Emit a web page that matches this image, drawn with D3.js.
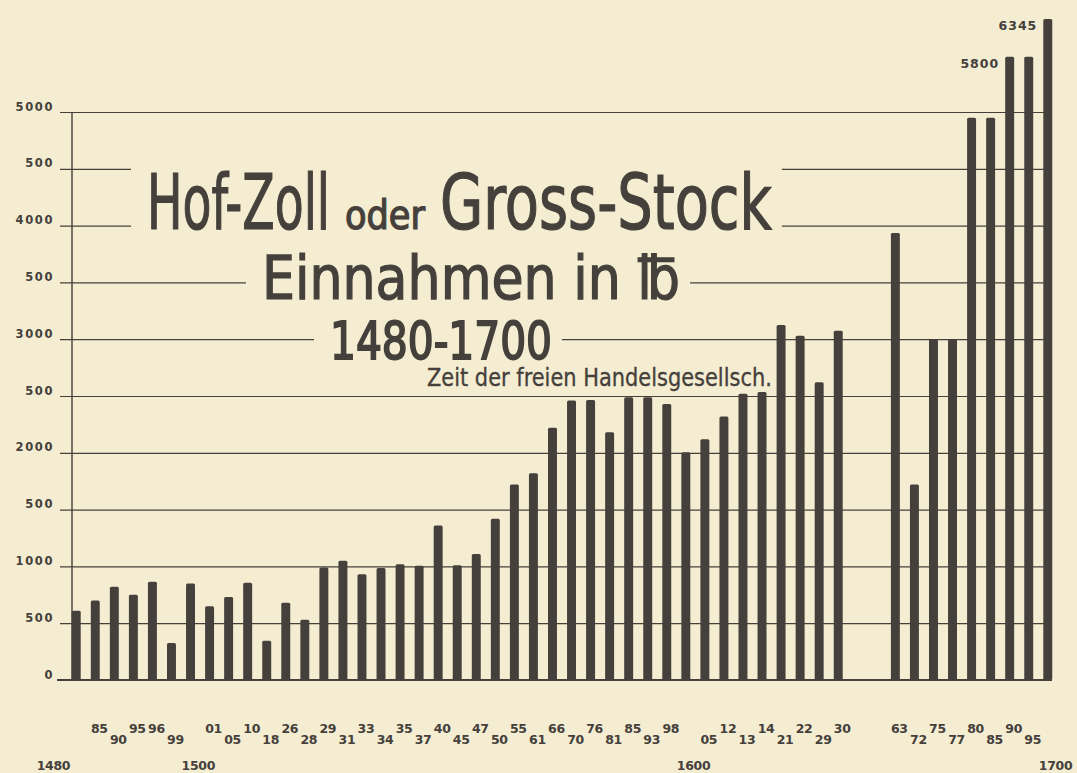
<!DOCTYPE html>
<html>
<head>
<meta charset="utf-8">
<script src="https://cdn.jsdelivr.net/npm/d3@7"></script>
<style>
  html, body { margin: 0; padding: 0; background: #f4edd2; }
  svg { display: block; }
</style>
</head>
<body>
<svg id="chart" width="1077" height="773"></svg>
<script>
// years and revenue (in lb)
const years = [1480, 1485, 1490, 1495, 1496, 1499, 1500, 1501, 1505, 1510,
  1518, 1526, 1528, 1529, 1531, 1533, 1534, 1535, 1537, 1540,
  1545, 1547, 1550, 1555, 1561, 1566, 1570, 1576, 1581, 1585,
  1593, 1598, 1600, 1605, 1612, 1613, 1614, 1621, 1622, 1629,
  1630, 1663, 1672, 1675, 1677, 1680, 1685, 1690, 1695, 1700];
const values = [610, 700, 820, 750, 865, 325, 850, 650, 730, 855,
  345, 680, 530, 990, 1050, 930, 985, 1020, 1005, 1360,
  1010, 1110, 1420, 1720, 1820, 2220, 2460, 2465, 2180, 2490,
  2490, 2430, 2005, 2120, 2320, 2520, 2535, 3125, 3030, 2620,
  3075, 3935, 1720, 3000, 3000, 4950, 4950, 5800, 5800, 6345];
const yTicks = d3.range(0, 5001, 500);
const valueLabels = [5800, 6345]; // printed beside the tall bars
const labelledYears = [1690, 1700];

// layout bits
const gapAfter = 1630;      // empty stretch in the record
const raisedYears = [1485, 1495, 1496, 1501, 1510, 1526, 1529, 1533, 1535, 1540, 1547, 1555,
  1566, 1576, 1585, 1598, 1612, 1614, 1622, 1630, 1663, 1675, 1680, 1690];

const ink = '#45403b';
const paper = '#f4edd2';
const titleFont = '"Liberation Sans Narrow", "DejaVu Sans Condensed", "Roboto Condensed", "Open Sans", sans-serif';
const numFont = '"DejaVu Sans", Verdana, sans-serif';

const svg = d3.select('#chart');
svg.append('rect').attr('width', 1077).attr('height', 773).attr('fill', paper);

const slots = [];
years.forEach((yr) => {
  slots.push(yr);
  if (yr === gapAfter) slots.push('gap-a', 'gap-b');
});

const x = d3.scaleBand().domain(slots).range([66.7, 1057.3])
  .paddingInner(0.53).paddingOuter(0.265);
// the drawing squeezes everything above 5000
const y = d3.scaleLinear().domain([0, 5000, 6345]).range([680, 112, 19]);

const gridG = svg.append('g');
const knockG = svg.append('g');
const barG = svg.append('g');
const textG = svg.append('g');

// grid lines + y labels
const yAxis = d3.axisLeft(y)
  .tickValues(yTicks)
  .tickSize(-(1048 - 60))
  .tickPadding(6)
  .tickFormat((d) => (d === 0 ? '0' : d % 1000 === 0 ? d : '500'));
gridG.append('g')
  .attr('transform', 'translate(60,0)')
  .call(yAxis)
  .call((g) => g.select('.domain').remove())
  .call((g) => g.selectAll('.tick line').attr('stroke', ink).attr('stroke-width', 1.2))
  .call((g) => g.selectAll('.tick text')
    .attr('dy', '-2')
    .attr('fill', ink)
    .attr('font-family', numFont)
    .attr('font-weight', 'bold')
    .attr('font-size', 11.5)
    .attr('letter-spacing', 1.6));

// base line and vertical axis
gridG.append('line')
  .attr('x1', 57).attr('x2', 1052)
  .attr('y1', y(0)).attr('y2', y(0))
  .attr('stroke', ink).attr('stroke-width', 1.8);
gridG.append('line')
  .attr('x1', 72).attr('x2', 72)
  .attr('y1', y(5000)).attr('y2', y(0))
  .attr('stroke', ink).attr('stroke-width', 1.4);

// bars
barG.selectAll('rect')
  .data(years)
  .join('rect')
  .attr('x', (d) => x(d))
  .attr('width', x.bandwidth())
  .attr('y', (d, i) => y(values[i]))
  .attr('height', (d, i) => y(0) - y(values[i]))
  .attr('rx', 1.5)
  .attr('fill', ink);

// value notes at top right
textG.selectAll('text.val')
  .data(labelledYears)
  .join('text')
  .attr('class', 'val')
  .attr('x', (d) => x(d) - 6)
  .attr('y', (d) => y(values[years.indexOf(d)]) + 11)
  .attr('text-anchor', 'end')
  .attr('font-family', numFont)
  .attr('font-weight', 'bold')
  .attr('font-size', 12.5)
  .attr('letter-spacing', 1)
  .attr('fill', ink)
  .text((d, i) => valueLabels[i]);

// year labels, two staggered rows + centuries below
const cx = (d) => x(d) + x.bandwidth() / 2;
textG.selectAll('text.yr')
  .data(years.filter((d) => d % 100 !== 0 && d !== years[0]))
  .join('text')
  .attr('class', 'yr')
  .attr('x', (d) => cx(d) + 4)
  .attr('y', (d) => (raisedYears.includes(d) ? 733 : 744))
  .attr('text-anchor', 'middle')
  .attr('font-family', numFont)
  .attr('font-weight', 'bold')
  .attr('font-size', 12.5)
  .attr('letter-spacing', -0.3)
  .attr('fill', ink)
  .text((d) => String(d % 100).padStart(2, '0'));

textG.selectAll('text.cent')
  .data([years[0]].concat(years.filter((d) => d % 100 === 0)))
  .join('text')
  .attr('class', 'cent')
  .attr('x', (d) => (d === years[0] ? cx(d) - 6 : cx(d) - 9))
  .attr('y', 770)
  .attr('text-anchor', (d) => (d === years[0] ? 'end' : 'start'))
  .attr('font-family', numFont)
  .attr('font-weight', 'bold')
  .attr('font-size', 12.5)
  .attr('letter-spacing', -0.3)
  .attr('fill', ink)
  .text((d) => d);

// title block; each piece squeezed sideways to the hand-lettered width
const titleParts = [
  { line: 0, text: 'Hof-Zoll', x: 147, w: 183, y: 229, size: 76 },
  { line: 0, text: 'oder', x: 345, w: 80, y: 229, size: 40 },
  { line: 0, text: 'Gross-Stock', x: 440, w: 332, y: 229, size: 76 },
  { line: 1, text: 'Einnahmen in \u2114', x: 262, w: 418, y: 299, size: 60 },
  { line: 2, text: '1480-1700', x: 330, w: 222, y: 359, size: 52 },
  { line: 3, text: 'Zeit der freien Handelsgesellsch.', x: 427, w: 345, y: 386, size: 24 }
];
textG.selectAll('text.title')
  .data(titleParts)
  .join('text')
  .attr('class', (d) => 'title line' + d.line)
  .attr('font-family', titleFont)
  .attr('font-size', (d) => d.size)
  .attr('fill', ink)
  .attr('stroke', ink)
  .attr('stroke-width', (d) => (d.line === 3 ? 0.3 : d.line === 2 ? 1.8 : 1.2))
  .text((d) => d.text)
  .attr('transform', function (d) {
    const sx = d.w / this.getComputedTextLength();
    return `translate(${d.x},${d.y}) scale(${sx},1)`;
  });

// grid lines stop short of the three main title lines
const svgBox = svg.node().getBoundingClientRect();
[0, 1, 2].forEach((ln) => {
  const boxes = textG.selectAll('.line' + ln).nodes().map((n) => n.getBoundingClientRect());
  const x0 = d3.min(boxes, (b) => b.left) - svgBox.left - 16;
  const x1 = d3.max(boxes, (b) => b.right) - svgBox.left + 10;
  const y0 = d3.min(boxes, (b) => b.top) - svgBox.top;
  const y1 = d3.max(boxes, (b) => b.bottom) - svgBox.top;
  knockG.append('rect')
    .attr('x', x0).attr('y', y0 + 8)
    .attr('width', x1 - x0).attr('height', y1 - y0 - 14)
    .attr('fill', paper);
});
</script>
</body>
</html>
